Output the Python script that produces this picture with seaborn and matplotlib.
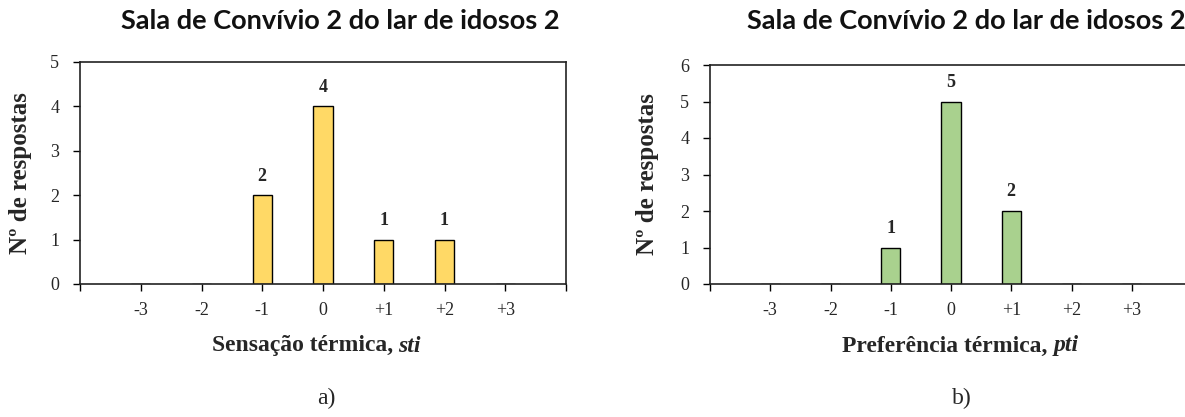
import matplotlib
matplotlib.use("Agg")
import matplotlib.pyplot as plt
import seaborn as sns
import pandas as pd

categories = ["-3", "-2", "-1", "0", "+1", "+2", "+3"]
sti_counts = [0, 0, 2, 4, 1, 1, 0]
pti_counts = [0, 0, 1, 5, 2, 0, 0]
title_text = "Sala de Convívio 2 do lar de idosos 2"
ylabel_text = "Nº de respostas"

sns.set_theme(style="white")
plt.rcParams["font.family"] = ["Liberation Serif", "DejaVu Serif"]

W, H = 1185, 417
fig = plt.figure(figsize=(W / 100, H / 100), dpi=100)

def px_axes(left, top, right, bottom):
    return fig.add_axes([left / W, (H - bottom) / H, (right - left) / W, (bottom - top) / H])

ax1 = px_axes(80, 62, 566, 284)
ax2 = px_axes(710, 65, 1192, 284)

panels = [
    (ax1, sti_counts, "#FFD966", 5, "Sensação térmica, ", "sti", 317, 340, 326, "a)", 486, 80, 32),
    (ax2, pti_counts, "#A9D18E", 6, "Preferência térmica, ", "pti", 962, 966, 962, "b)", 482, 710, 659),
]

renderer = fig.canvas.get_renderer()

for ax, vals, col, ymax, xl, xl_it, xlab_x, title_x, sub_x, sub, axw, axl, ylab_x in panels:
    df = pd.DataFrame({"cat": categories, "n": vals})
    sns.barplot(data=df, x="cat", y="n", order=categories, color=col,
                edgecolor="black", linewidth=1.0, width=0.32, ax=ax, saturation=1)
    ax.set_xlim(-1, 7)
    ax.set_ylim(0, ymax)
    ax.set_xticks(range(-1, 8))
    ax.set_xticklabels([""] + categories + [""])
    ax.set_yticks(range(0, ymax + 1))
    ax.tick_params(axis="both", which="both", direction="out", length=5, width=1,
                   color="black", labelsize=13, bottom=True, left=True)
    ax.tick_params(axis="x", pad=8)
    ax.tick_params(axis="y", pad=10)
    for s in ax.spines.values():
        s.set_visible(True)
        s.set_color("#222222")
        s.set_linewidth(1.2)
    ax.set_xlabel("")
    ax.set_ylabel(ylabel_text, fontsize=18, fontweight="bold")
    ax.yaxis.set_label_coords((ylab_x - axl) / axw, 0.5)
    for i, v in enumerate(vals):
        if v > 0:
            ax.annotate(str(v), xy=(i, v), xytext=(0, 19), textcoords="offset pixels",
                        ha="center", va="center", fontsize=13, fontweight="bold")
    # x label: bold upright part followed by bold italic part
    t1 = fig.text(xlab_x / W, (H - 346) / H, xl + xl_it, ha="center", va="center",
                  fontsize=17, fontweight="bold")
    bb = t1.get_window_extent(renderer)
    t1.remove()
    ta = fig.text(bb.x0 / W, (H - 346) / H, xl, ha="left", va="center",
                  fontsize=17, fontweight="bold")
    bba = ta.get_window_extent(renderer)
    fig.text(bba.x1 / W, (H - 346) / H, xl_it, ha="left", va="center",
             fontsize=17, fontweight="bold", fontstyle="italic")
    fig.text(title_x / W, (H - 21) / H, title_text, ha="center", va="center",
             fontsize=19.5, fontweight="bold", family=["Lato", "DejaVu Sans"], color="#111111")
    fig.text(sub_x / W, (H - 398) / H, sub, ha="center", va="center", fontsize=17)

fig.savefig("out.png", dpi=100)
